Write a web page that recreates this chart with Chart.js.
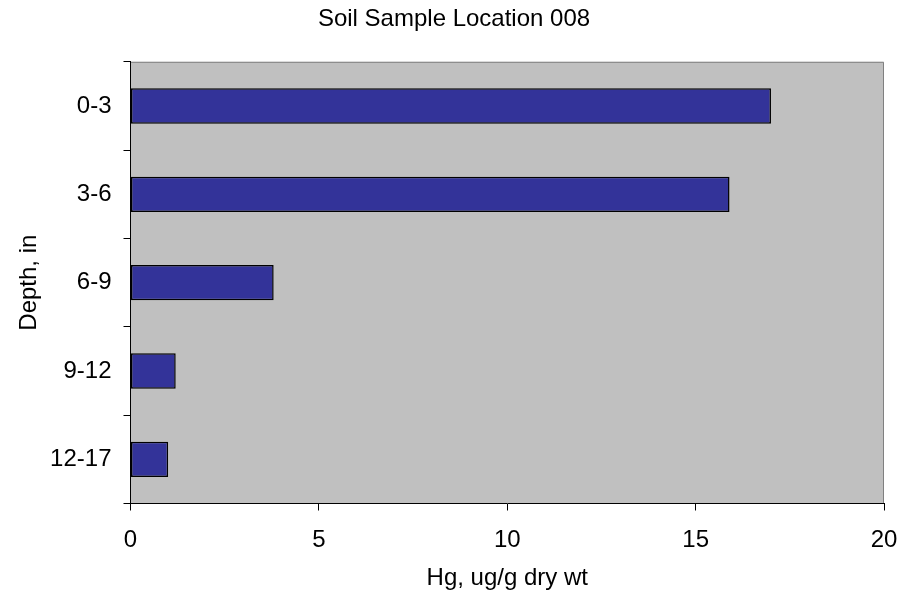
<!DOCTYPE html>
<html>
<head>
<meta charset="utf-8">
<title>Soil Sample Location 008</title>
<script src="https://cdn.jsdelivr.net/npm/chart.js@4"></script>
<style>
  html, body { margin: 0; padding: 0; background: #fff; }
  #wrap { width: 922px; height: 597px; }
</style>
</head>
<body>
<div id="wrap"><canvas id="soilChart" width="922" height="597"></canvas></div>
<script>
// depth intervals and mercury concentration
var depths = ["0-3", "3-6", "6-9", "9-12", "12-17"];
var hgValues = [17.0, 15.9, 3.8, 1.2, 1.0];
var xTicks = [0, 5, 10, 15, 20];

var font = "Arial, 'Liberation Sans', sans-serif";

// grey plot background with the thin grey frame on top and right
var plotBack = {
  id: "plotBack",
  beforeDraw: function (chart) {
    var a = chart.chartArea, c = chart.ctx;
    c.save();
    c.fillStyle = "#C0C0C0";
    c.fillRect(a.left, a.top, a.right - a.left, a.bottom - a.top);
    c.strokeStyle = "#808080";
    c.lineWidth = 1;
    c.beginPath();
    c.moveTo(a.left, a.top + 0.5);
    c.lineTo(a.right - 0.5, a.top + 0.5);
    c.lineTo(a.right - 0.5, a.bottom);
    c.stroke();
    c.restore();
  }
};

var ctx = document.getElementById("soilChart");
var soilChart = new Chart(ctx, {
  type: "bar",
  data: {
    labels: depths,
    datasets: [{
      label: "Hg",
      data: hgValues,
      backgroundColor: "#333399",
      borderColor: "#000000",
      borderWidth: 1.5,
      borderSkipped: false,
      barPercentage: 0.4,
      categoryPercentage: 1.0
    }]
  },
  options: {
    indexAxis: "y",
    responsive: false,
    animation: false,
    layout: { padding: { left: 0, right: 14, top: 0, bottom: 0 } },
    plugins: {
      legend: { display: false },
      tooltip: { enabled: false },
      title: {
        display: true,
        text: "Soil Sample Location 008",
        color: "#000",
        font: { family: font, size: 24, weight: "normal" },
        padding: { top: 5, bottom: 28 }
      }
    },
    scales: {
      x: {
        min: 0,
        max: 20,
        afterFit: function (s) { s.height = 93.5; },
        afterBuildTicks: function (s) {
          s.ticks = xTicks.map(function (v) { return { value: v }; });
        },
        grid: {
          drawOnChartArea: false,
          drawTicks: true,
          tickLength: 7,
          color: "#000"
        },
        border: { display: true, color: "#000", width: 1 },
        ticks: {
          color: "#000",
          padding: 15,
          font: { family: font, size: 24 }
        },
        title: {
          display: true,
          text: "Hg, ug/g dry wt",
          color: "#000",
          font: { family: font, size: 24 },
          padding: { top: 0, bottom: 4 }
        }
      },
      y: {
        afterFit: function (s) { s.width = 130.5; },
        grid: {
          offset: true,
          drawOnChartArea: false,
          drawTicks: true,
          tickLength: 7,
          color: "#000"
        },
        border: { display: true, color: "#000", width: 1 },
        ticks: {
          color: "#000",
          padding: 12,
          font: { family: font, size: 24 }
        },
        title: {
          display: true,
          text: "Depth, in",
          color: "#000",
          font: { family: font, size: 24 },
          padding: { top: 15, bottom: 0 }
        }
      },
      // empty spacer on the right so the title centres like the original
      spacer: {
        type: "linear",
        position: "right",
        display: true,
        afterFit: function (s) { s.width = 24; },
        grid: { display: false },
        border: { display: false },
        ticks: { display: false }
      }
    }
  },
  plugins: [plotBack]
});
</script>
</body>
</html>
